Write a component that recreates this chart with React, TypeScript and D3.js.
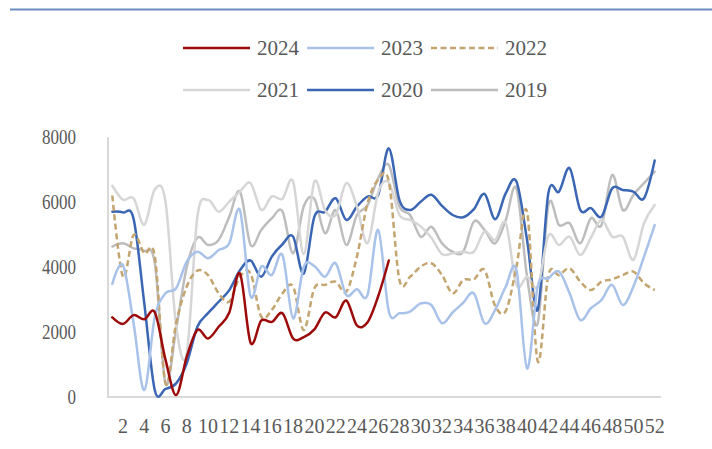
import React from "react";
import * as d3 from "d3";

const weeks: number[] = Array.from({ length: 52 }, (_, i) => i + 1);
const xTickLabels: number[] = weeks.filter((w) => w % 2 === 0);
const yTicks: number[] = [0, 2000, 4000, 6000, 8000];

const s2024: number[] = [2450, 2250, 2520, 2390, 2600, 1150, 60, 1240, 2060, 1800, 2160, 2600, 3800, 1670, 2350, 2310, 2575, 1800, 1840, 2080, 2600, 2450, 2970, 2200, 2300, 3100, 4200];
const s2023: number[] = [3480, 4060, 2270, 215, 2470, 3190, 3345, 4165, 4470, 4270, 4520, 4730, 5750, 3100, 4010, 3750, 4370, 2420, 4010, 4030, 3700, 4115, 3140, 3315, 3140, 5140, 2630, 2575, 2630, 2880, 2830, 2270, 2600, 2900, 3190, 2270, 2680, 3400, 3910, 880, 3400, 3650, 3860, 3190, 2370, 2730, 2985, 3450, 2830, 3400, 4320, 5290];
const s2022: number[] = [6200, 3700, 4985, 4420, 4320, 420, 2270, 3400, 3890, 3750, 3190, 2935, 3700, 3800, 2470, 2680, 3190, 3400, 2060, 3345, 3450, 3550, 3240, 4320, 5960, 6680, 6630, 3600, 3700, 4010, 4115, 3755, 3190, 3600, 3620, 3910, 2800, 2650, 4000, 5700, 1100, 3750, 3750, 3960, 3550, 3290, 3550, 3620, 3750, 3860, 3500, 3290];
const s2021: number[] = [6500, 6070, 6115, 5300, 6390, 6010, 2200, 1350, 5550, 6060, 5700, 6010, 6320, 6580, 5755, 6170, 6100, 6630, 4400, 6630, 5750, 5600, 6580, 5860, 4730, 6300, 6600, 5600, 5450, 5250, 4900, 4400, 4420, 4470, 4470, 5090, 4830, 5345, 3450, 3700, 3400, 4960, 4680, 4935, 4370, 4900, 5450, 4935, 4935, 4220, 5345, 5910];
const s2020: number[] = [5700, 5680, 5480, 2900, 200, 250, 420, 1040, 2165, 2580, 2930, 3290, 3900, 4200, 3700, 4320, 4700, 4935, 3800, 5550, 5700, 6115, 5450, 5860, 6170, 6220, 7650, 6060, 5755, 6010, 6220, 5880, 5600, 5530, 5780, 6250, 5470, 6270, 6630, 4830, 2680, 6270, 6320, 7040, 5755, 5810, 5550, 6420, 6370, 6320, 6115, 7275];
const s2019: number[] = [4630, 4730, 4575, 4500, 4115, 420, 2100, 4000, 4900, 4680, 4830, 5550, 6320, 4680, 5140, 5500, 5710, 4420, 5860, 6100, 5040, 5750, 4680, 5600, 5900, 6730, 7140, 5860, 5600, 4930, 5240, 4730, 4470, 4470, 5400, 5140, 4730, 5450, 6420, 3700, 2270, 5900, 5290, 5345, 4730, 5500, 5290, 6830, 5755, 6220, 6580, 6935];

const seriesNames: string[] = ["2024", "2023", "2022", "2021", "2020", "2019"];
const seriesData: number[][] = [s2024, s2023, s2022, s2021, s2020, s2019];
const seriesColors: string[] = ["#9c0a0a", "#a9c2ea", "#c4a46f", "#d6d6d6", "#3a66b3", "#bdbdbd"];
const seriesDash: (string | undefined)[] = [undefined, undefined, "6 3.5", undefined, undefined, undefined];

const W = 712;
const H = 449;
const FONT = "'Liberation Serif', 'DejaVu Serif', serif";
const TEXT_COLOR = "#595959";

export default function App() {
  const x = d3.scaleBand<number>().domain(weeks).range([107, 660]);
  const y = d3.scaleLinear().domain([0, 8000]).range([397, 137]);
  const cx = (w: number) => (x(w) as number) + x.bandwidth() / 2;
  const line = d3
    .line<number>()
    .x((_, i) => cx(weeks[i]))
    .y((v) => y(v))
    .curve(d3.curveCardinal.tension(0));

  const order = [5, 4, 3, 2, 1, 0];
  const legendCols = [183, 307, 431];
  const legendRows = [48, 90];

  return (
    <svg width={W} height={H} style={{ position: "absolute", left: 0, top: 0, background: "#fff" }}>
      <line x1={10} x2={W} y1={9.5} y2={9.5} stroke="#6b8cbe" strokeWidth={2} />
      <line x1={108} x2={108} y1={137} y2={397} stroke="#d9d9d9" strokeWidth={2} />
      <line x1={107} x2={661} y1={397} y2={397} stroke="#d9d9d9" strokeWidth={2} />
      {yTicks.map((t) => (
        <g key={t} transform={`translate(76,${y(t)}) scale(0.85,1)`}>
          <text x={0} y={0} dy="0.35em" textAnchor="end" fontFamily={FONT} fontSize={20} fill={TEXT_COLOR}>
            {t}
          </text>
        </g>
      ))}
      {xTickLabels.map((w) => (
        <text key={w} x={cx(w)} y={433} textAnchor="middle" fontFamily={FONT} fontSize={20} fill={TEXT_COLOR}>
          {w}
        </text>
      ))}
      {order.map((k) => (
        <path
          key={seriesNames[k]}
          d={line(seriesData[k]) || ""}
          fill="none"
          stroke={seriesColors[k]}
          strokeWidth={2.5}
          strokeDasharray={seriesDash[k]}
          strokeLinejoin="round"
          strokeLinecap={seriesDash[k] ? "butt" : "round"}
        />
      ))}
      {seriesNames.map((n, i) => {
        const lx = legendCols[i % 3];
        const ly = legendRows[Math.floor(i / 3)];
        return (
          <g key={n}>
            <line x1={lx} x2={lx + 67} y1={ly} y2={ly} stroke={seriesColors[i]} strokeWidth={2.5} strokeDasharray={seriesDash[i]} />
            <text x={lx + 74} y={ly} dy="0.35em" fontFamily={FONT} fontSize={21} fill={TEXT_COLOR}>
              {n}
            </text>
          </g>
        );
      })}
    </svg>
  );
}
